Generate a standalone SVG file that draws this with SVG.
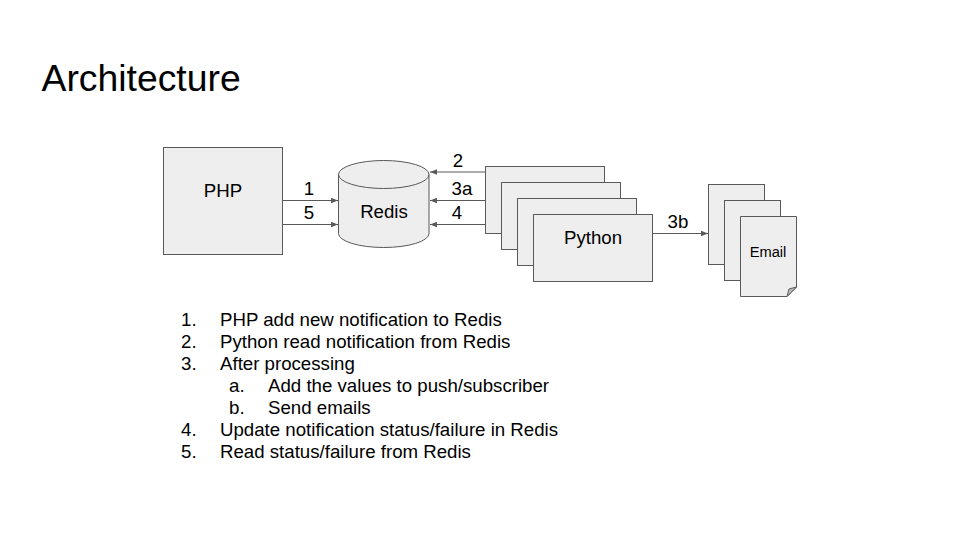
<svg xmlns="http://www.w3.org/2000/svg" width="960" height="540" viewBox="0 0 960 540">
<style>
text{font-family:"Liberation Sans",Arial,sans-serif;fill:#000}
.s{fill:#eeeeee;stroke:#595959;stroke-width:1}
.c{fill:none;stroke:#595959;stroke-width:1}
.l{font-size:18.67px;text-anchor:middle}
.t{font-size:18.67px}
</style>
<defs>
<marker id="a" markerWidth="8" markerHeight="6" refX="7" refY="3" orient="auto" markerUnits="userSpaceOnUse"><path d="M0,0.2L7,3L0,5.8Z" fill="#595959"/></marker>
</defs>
<rect width="960" height="540" fill="#fff"/>
<text x="41.500" y="91" font-size="37.33">Architecture</text>
<g id="connectors">
<path class="c" marker-end="url(#a)" d="M282.500 200.500H338"/>
<path class="c" marker-end="url(#a)" d="M282.500 224.500H338"/>
<path class="c" marker-end="url(#a)" d="M485 172H430"/>
<path class="c" marker-end="url(#a)" d="M485 200.500H430"/>
<path class="c" marker-end="url(#a)" d="M485 224.500H430"/>
<path class="c" marker-end="url(#a)" d="M652.500 233.500H708"/>
</g>
<g id="php"><rect class="s" x="163.500" y="147.500" width="119" height="107"/><text class="l" x="223" y="197">PHP</text></g>
<g id="redis">
<path class="s" d="M338.500 174.500A45.250 14 0 0 1 429 174.500V233.500A45.250 14 0 0 1 338.500 233.500Z"/>
<path class="c" d="M338.500 174.500A45.250 14 0 0 0 429 174.500"/>
<text class="l" x="384" y="218">Redis</text>
</g>
<g id="python1"><rect class="s" x="485.500" y="166.500" width="119" height="67"/></g>
<g id="python2"><rect class="s" x="501.500" y="182.500" width="119" height="67"/></g>
<g id="python3"><rect class="s" x="517.500" y="198.500" width="119" height="67"/></g>
<g id="python4"><rect class="s" x="533.500" y="214.500" width="119" height="67"/><text class="l" x="593" y="244">Python</text></g>
<g id="email1"><rect class="s" x="708.500" y="184.500" width="56" height="80"/></g>
<g id="email2"><rect class="s" x="724.500" y="200.500" width="56" height="80"/></g>
<g id="email3">
<path class="s" d="M740.500 216.500H796.500V287L787 296.500H740.500Z"/>
<path d="M787 296.500L789 289L796.500 287Z" fill="#bdbdbd" stroke="#595959"/>
<text x="768" y="257" font-size="14.67" text-anchor="middle">Email</text>
</g>
<g id="labels">
<text class="l" x="309" y="195">1</text>
<text class="l" x="309" y="219">5</text>
<text class="l" x="458" y="167">2</text>
<text class="l" x="462" y="195">3a</text>
<text class="l" x="457" y="219">4</text>
<text class="l" x="678" y="228">3b</text>
</g>
<g id="list">
<text class="t" x="181" y="326">1.</text><text class="t" x="220" y="326">PHP add new notification to Redis</text>
<text class="t" x="181" y="348">2.</text><text class="t" x="220" y="348">Python read notification from Redis</text>
<text class="t" x="181" y="370">3.</text><text class="t" x="220" y="370">After processing</text>
<text class="t" x="229" y="392">a.</text><text class="t" x="268" y="392">Add the values to push/subscriber</text>
<text class="t" x="229" y="414">b.</text><text class="t" x="268" y="414">Send emails</text>
<text class="t" x="181" y="436">4.</text><text class="t" x="220" y="436">Update notification status/failure in Redis</text>
<text class="t" x="181" y="458">5.</text><text class="t" x="220" y="458">Read status/failure from Redis</text>
</g>
</svg>
